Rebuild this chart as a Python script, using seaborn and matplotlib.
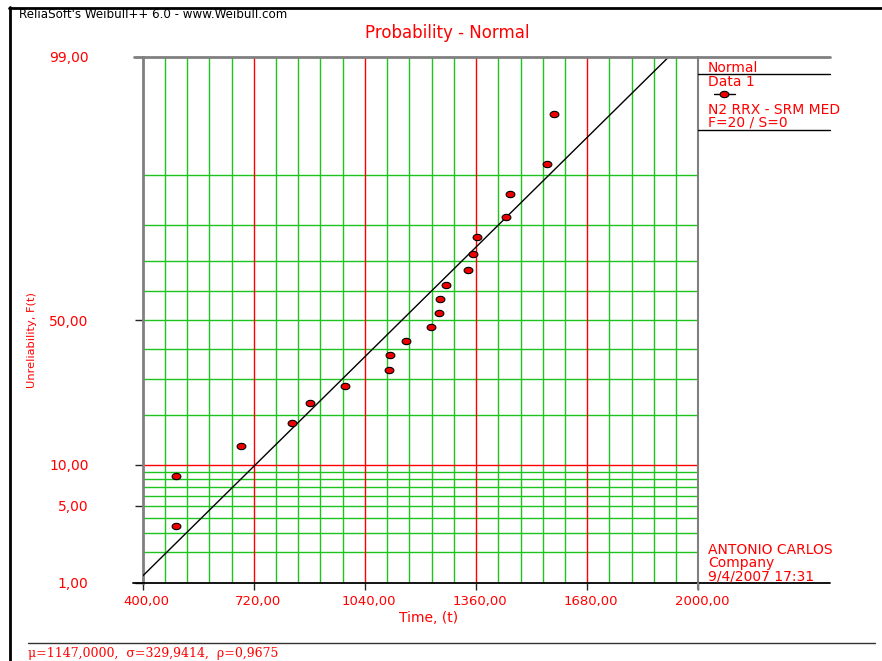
import numpy as np
import pandas as pd
import matplotlib
matplotlib.use("Agg")
import matplotlib.pyplot as plt
from matplotlib.lines import Line2D
from matplotlib.path import Path
from matplotlib.transforms import Affine2D, ScaledTranslation
import seaborn as sns
from statistics import NormalDist

# ---- data -------------------------------------------------------------
# Failure times (20 failures, no suspensions)
times = [495, 495, 684, 830, 882, 984, 1108, 1112, 1157, 1229,
         1253, 1256, 1274, 1336, 1350, 1362, 1446, 1457, 1565, 1585]
# Unreliability at each failure, median ranks (%)
unreliability = [3.43, 8.33, 13.24, 18.14, 23.04, 27.94, 32.84, 37.75, 42.65, 47.55,
                 52.45, 57.35, 62.25, 67.16, 72.06, 76.96, 81.86, 86.76, 91.67, 96.57]
# Fitted normal parameters
mu, sigma, rho = 1147.0, 329.9414, 0.9675

x_ticks = [400, 720, 1040, 1360, 1680, 2000]
y_ticks = [1, 5, 10, 50, 99]
y_grid_green = [2, 3, 4, 5, 6, 7, 8, 9, 20, 30, 40, 50, 60, 70, 80, 90]
y_grid_red = [10]


def fmt(v):
    return f"{v:.2f}".replace(".", ",")


# ---- figure -----------------------------------------------------------
W, H = 882, 661
sns.set_style("white")
plt.rcParams["font.family"] = ["DejaVu Sans"]

RED = "#ff0000"
GREEN = "#1ec31e"
GRAY = "#808080"

fig = plt.figure(figsize=(W / 100, H / 100), dpi=100)
PX = Affine2D().scale(1 / W, -1 / H).translate(0, 1) + fig.transFigure

ax_l, ax_r, ax_t, ax_b = 142.7, 698.3, 57.0, 583.0
ax = fig.add_axes([ax_l / W, 1 - ax_b / H, (ax_r - ax_l) / W, (ax_b - ax_t) / H])

# normal probability scale on the unreliability axis
nd = NormalDist()
_ppf = np.vectorize(lambda p: nd.inv_cdf(p), otypes=[float])
_cdf = np.vectorize(lambda z: nd.cdf(z), otypes=[float])


def forward(p):
    p = np.clip(np.asarray(p, dtype=float) / 100.0, 1e-9, 1 - 1e-9)
    return _ppf(p)


def inverse(z):
    return _cdf(np.asarray(z, dtype=float)) * 100.0


df = pd.DataFrame({"Time": times, "Unreliability": unreliability})

# fitted line F(t) = Phi((t - mu) / sigma)
fit = NormalDist(mu, sigma)
t_fit = [300.0, 2000.0]
df_fit = pd.DataFrame({"Time": t_fit,
                       "Unreliability": [fit.cdf(t) * 100 for t in t_fit]})

theta = np.linspace(0, 2 * np.pi, 41)
oval = Path(np.column_stack([np.cos(theta), 0.72 * np.sin(theta)]), closed=True)

sns.lineplot(data=df_fit, x="Time", y="Unreliability", color="black",
             linewidth=1.0, ax=ax, zorder=4, legend=False)
sns.scatterplot(data=df, x="Time", y="Unreliability", marker=oval, s=40,
                color="#ee0000", edgecolor="black", linewidth=0.8,
                ax=ax, zorder=5, legend=False)

ax.set_yscale("function", functions=(forward, inverse))
ax.set_xlim(400, 2000)
ax.set_ylim(1, 99)

# grid
x_grid = np.arange(464, 2000, 64)
x_red = [v for v in x_grid if (v - 400) % 320 == 0]
x_green = [v for v in x_grid if (v - 400) % 320 != 0]
ax.vlines(x_green, 1, 99, colors=GREEN, linewidth=1.0, zorder=1)
ax.vlines(x_red, 1, 99, colors=RED, linewidth=1.0, zorder=2)
ax.hlines(y_grid_green, 400, 2000, colors=GREEN, linewidth=1.0, zorder=1)
ax.hlines(y_grid_red, 400, 2000, colors=RED, linewidth=1.0, zorder=2)

# ticks
ax.set_xticks(x_ticks)
ax.set_xticklabels([fmt(v) for v in x_ticks])
ax.set_yticks(y_ticks)
ax.set_yticklabels([fmt(v) for v in y_ticks])
ax.minorticks_off()
ax.tick_params(axis="x", length=5, width=1, pad=4, labelsize=9.5,
               labelcolor=RED, bottom=True)
ax.tick_params(axis="y", length=6, width=1, pad=33, labelsize=10,
               labelcolor=RED, left=True)
for tk, v in zip(ax.xaxis.get_major_ticks(), x_ticks):
    tk.tick1line.set_color(GRAY if v in (400, 2000) else RED)
for tk, v in zip(ax.yaxis.get_major_ticks(), y_ticks):
    tk.tick1line.set_color({1: "black", 5: GREEN, 10: RED, 50: GREEN, 99: GRAY}[v])
for lbl in ax.get_xticklabels():
    lbl.set_transform(lbl.get_transform() + ScaledTranslation(4 / 100, 0, fig.dpi_scale_trans))

ax.set_xlabel("")
ax.set_ylabel("")

# spines
ax.spines["left"].set_color(GRAY)
ax.spines["left"].set_linewidth(2)
ax.spines["right"].set_color(GRAY)
ax.spines["right"].set_linewidth(1.5)
ax.spines["top"].set_visible(False)
ax.spines["bottom"].set_visible(False)

# extended frame lines of the plot / side panel
def hline(y, x0, x1, color, lw):
    fig.add_artist(Line2D([x0, x1], [y, y], transform=PX, color=color, linewidth=lw))


def vline(x, y0, y1, color, lw):
    fig.add_artist(Line2D([x, x], [y0, y1], transform=PX, color=color, linewidth=lw))


hline(ax_t, 134, 830, GRAY, 2.0)
hline(ax_b, 133, 830, "black", 1.3)
hline(74.3, ax_r, 830, "black", 1.0)
hline(130.0, ax_r, 830, "black", 1.0)
vline(ax_r, ax_b, 589, GRAY, 1.5)
hline(642.5, 28, 875, "#333333", 1.0)
# page border
vline(10, 7, H, "black", 2.0)
hline(7.7, 9, W, "black", 2.0)

# texts
fig.text(19, 18.3, "ReliaSoft's Weibull++ 6.0 - www.Weibull.com", transform=PX,
         fontsize=8.6, color="black", va="baseline", ha="left")
fig.text(447, 37.7, "Probability - Normal", transform=PX, fontsize=12,
         color=RED, va="baseline", ha="center")
fig.text(429, 621.7, "Time, (t)", transform=PX, fontsize=10, color=RED,
         va="baseline", ha="center")
fig.text(32, 340, "Unreliability, F(t)", transform=PX, fontsize=8.2, color=RED,
         va="center", ha="center", rotation=90)

side_fs = 10
fig.text(708, 71.7, "Normal", transform=PX, fontsize=side_fs, color=RED, va="baseline")
fig.text(708, 86.0, "Data 1", transform=PX, fontsize=side_fs, color=RED, va="baseline")
fig.add_artist(Line2D([714, 735], [93.7, 93.7], transform=PX, color="black", linewidth=1.0))
fig.add_artist(Line2D([723.5], [93.7], transform=PX, marker=oval, markersize=np.sqrt(40),
                      markerfacecolor="#ee0000", markeredgecolor="black",
                      markeredgewidth=0.8, linestyle="none"))
fig.text(708, 126.7, "N2 RRX - SRM MED\nF=20 / S=0", transform=PX, fontsize=side_fs,
         color=RED, va="baseline", linespacing=0.92)
fig.text(708, 580.0, "ANTONIO CARLOS\nCompany\n9/4/2007 17:31", transform=PX,
         fontsize=side_fs, color=RED, va="baseline", linespacing=0.92)

fig.text(28, 656.7,
         f"\u03bc={mu:.4f},  \u03c3={sigma:.4f},  \u03c1={rho:.4f}".replace(".", ","),
         transform=PX, fontsize=9, color=RED, va="baseline", family=["DejaVu Serif"])

fig.savefig("out.png", dpi=100)
